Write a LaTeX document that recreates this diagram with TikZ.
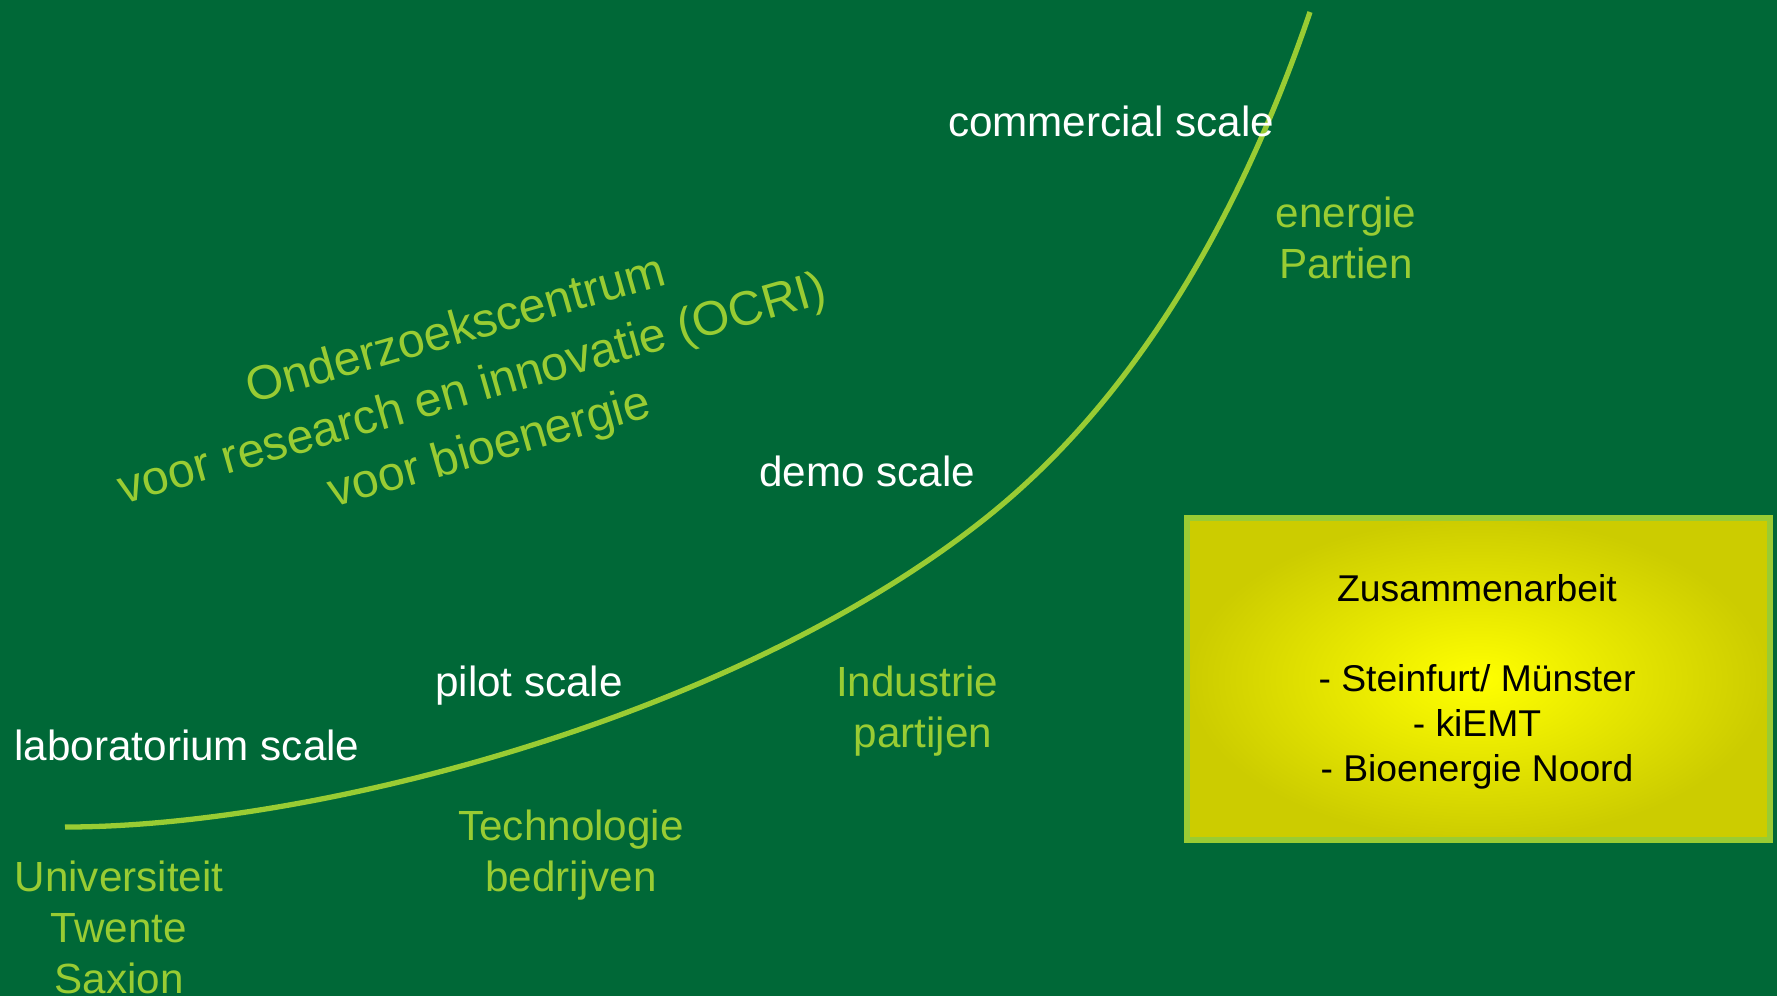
\documentclass[tikz,border=0pt]{standalone}
\usepackage{fontspec}
\setmainfont{Liberation Sans}
\definecolor{bggreen}{RGB}{0,104,55}
\definecolor{limegreen}{RGB}{153,204,51}
\definecolor{boxyellow}{RGB}{255,255,0}
\definecolor{boxolive}{RGB}{204,204,0}
\tikzset{
	scalelabel/.style={text=white, font=\fontsize{12}{14.5}\selectfont},
	partylabel/.style={text=limegreen, align=center, font=\fontsize{12}{14.5}\selectfont},
}

\begin{document}
\begin{tikzpicture}[x=0.01cm, y=-0.01cm]
			%%%%% START %%%%%
			
			\useasboundingbox (0, 0) rectangle (1777, 996);
			\fill[bggreen] (0, 0) rectangle (1777, 996);
			
			\draw[limegreen, line width=1.5pt] (65, 827) .. controls (315, 827) and (737, 717) .. (987, 517) .. controls (1127, 405) and (1235, 232) .. (1310, 12);
			
			\node[scalelabel] (commercial) at (1111, 121) {commercial scale};
			\node[scalelabel] (demo) at (867, 471) {demo scale};
			\node[scalelabel] (pilot) at (529, 686) {pilot scale};
			\node[scalelabel] (lab) at (187, 745) {laboratorium scale};
			
			\node[partylabel] (energie) at (1346, 238) {energie\\Partien};
			\node[partylabel] (industrie) at (917, 711) {Industrie\\\mbox{ }partijen};
			\node[partylabel] (techno) at (571, 855) {Technologie\\bedrijven};
			\node[partylabel] (univ) at (119, 927) {Universiteit\\Twente\\Saxion};
			
			\node[partylabel, rotate=16, font=\fontsize{13.7}{17.4}\selectfont] (ocri) at (473, 391) {Onderzoekscentrum\\voor research en innovatie (OCRI)\\voor bioenergie};
			
			\shade[inner color=boxyellow, outer color=boxolive] (1187, 518) rectangle (1770, 840);
			\draw[limegreen, line width=1.8pt] (1187, 518) rectangle (1770, 840);
			\node[align=center, font=\fontsize{10.6}{12.8}\selectfont] (samen) at (1477, 682) {Zusammenarbeit\\[12.8pt]- Steinfurt/ Münster\\- kiEMT\\- Bioenergie Noord};
			
			%%%%% END %%%%%
\end{tikzpicture}
\end{document}
